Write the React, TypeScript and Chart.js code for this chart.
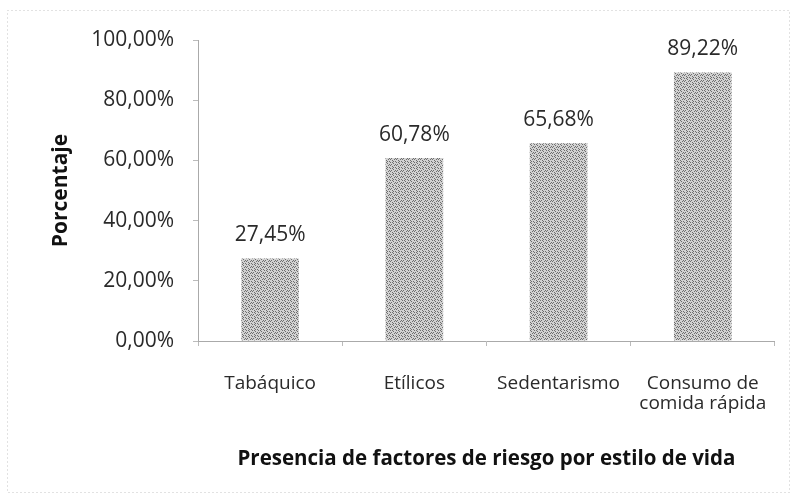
import React, { useEffect, useRef } from "react";
import { Chart, registerables } from "chart.js";

Chart.register(...registerables);

const categories: (string | string[])[] = ["Tabáquico", "Etílicos", "Sedentarismo", ["Consumo de", "comida rápida"]];
const values: number[] = [27.45, 60.78, 65.68, 89.22];
const yTicks: number[] = [0, 20, 40, 60, 80, 100];
const yTitle = "Porcentaje";
const xTitle = "Presencia de factores de riesgo por estilo de vida";

const fmt = (v: number) => v.toFixed(2).replace(".", ",") + "%";

function makePattern(): CanvasPattern | string {
  const c = document.createElement("canvas");
  c.width = 6;
  c.height = 6;
  const ctx = c.getContext("2d");
  if (!ctx) return "#b0b0b0";
  ctx.fillStyle = "#d2d2d2";
  ctx.fillRect(0, 0, 6, 6);
  ctx.fillStyle = "#6e6e6e";
  const dots = [[0, 0], [3, 1], [1, 2], [4, 3], [2, 4], [5, 5], [0, 3], [3, 5], [5, 2], [2, 0]];
  dots.forEach(([x, y]) => ctx.fillRect(x, y, 1, 1));
  const p = ctx.createPattern(c, "repeat");
  return p || "#b0b0b0";
}

const borderPlugin = {
  id: "outerBorder",
  beforeDraw(chart: any) {
    const ctx = chart.ctx;
    ctx.save();
    ctx.strokeStyle = "#c4c4c4";
    ctx.lineWidth = 1;
    ctx.setLineDash([1, 3]);
    ctx.strokeRect(7.5, 10.5, 782, 482);
    ctx.restore();
  },
};

const labelPlugin = {
  id: "valueLabels",
  afterDatasetsDraw(chart: any) {
    const ctx = chart.ctx;
    const meta = chart.getDatasetMeta(0);
    ctx.save();
    ctx.font = "21px 'Open Sans'";
    ctx.fillStyle = "#2a2a2a";
    ctx.textAlign = "center";
    ctx.textBaseline = "middle";
    meta.data.forEach((bar: any, i: number) => {
      ctx.fillText(fmt(values[i]), bar.x, bar.y - 23);
    });
    ctx.restore();
  },
};

export default function App() {
  const ref = useRef<HTMLCanvasElement>(null);
  useEffect(() => {
    document.body.style.margin = "0";
    if (!ref.current) return;
    const chart = new Chart(ref.current, {
      type: "bar",
      data: {
        labels: categories,
        datasets: [
          {
            data: values,
            backgroundColor: makePattern() as any,
            borderWidth: 0,
            barPercentage: 0.5,
            categoryPercentage: 0.8,
          },
        ],
      },
      options: {
        responsive: false,
        animation: false,
        devicePixelRatio: 1,
        layout: { padding: { top: 40, right: 14, bottom: 0, left: 0 } },
        plugins: { legend: { display: false }, tooltip: { enabled: false } },
        scales: {
          x: {
            grid: {
              display: true,
              drawOnChartArea: false,
              tickLength: 5,
              color: "#bbb",
            },
            border: { display: true, color: "#aaa", dash: [1, 2] },
            ticks: {
              padding: 28,
              color: "#2a2a2a",
              font: { family: "'Open Sans'", size: 19, lineHeight: 1.05 },
              maxRotation: 0,
            },
            title: {
              display: true,
              text: xTitle,
              color: "#111",
              font: { family: "'Open Sans'", size: 20.5, weight: "bold" },
              padding: { top: 0, bottom: 24 },
            },
            afterFit(scale: any) {
              scale.height = 154;
            },
          },
          y: {
            min: 0,
            max: 100,
            afterBuildTicks(scale: any) {
              scale.ticks = yTicks.map((v) => ({ value: v }));
            },
            grid: {
              display: true,
              drawOnChartArea: false,
              tickLength: 5,
              color: "#bbb",
            },
            border: { display: true, color: "#aaa", dash: [1, 2] },
            ticks: {
              padding: 19,
              color: "#2a2a2a",
              font: { family: "'Open Sans'", size: 21 },
              callback: (v: any) => fmt(Number(v)),
            },
            title: {
              display: true,
              text: yTitle,
              color: "#111",
              font: { family: "'Open Sans'", size: 21, weight: "bold" },
              padding: { top: 48, bottom: 0 },
            },
            afterFit(scale: any) {
              scale.width = 198;
            },
          },
        },
      },
      plugins: [borderPlugin, labelPlugin],
    });
    return () => chart.destroy();
  }, []);
  return <canvas ref={ref} width={796} height={495} style={{ display: "block" }} />;
}
